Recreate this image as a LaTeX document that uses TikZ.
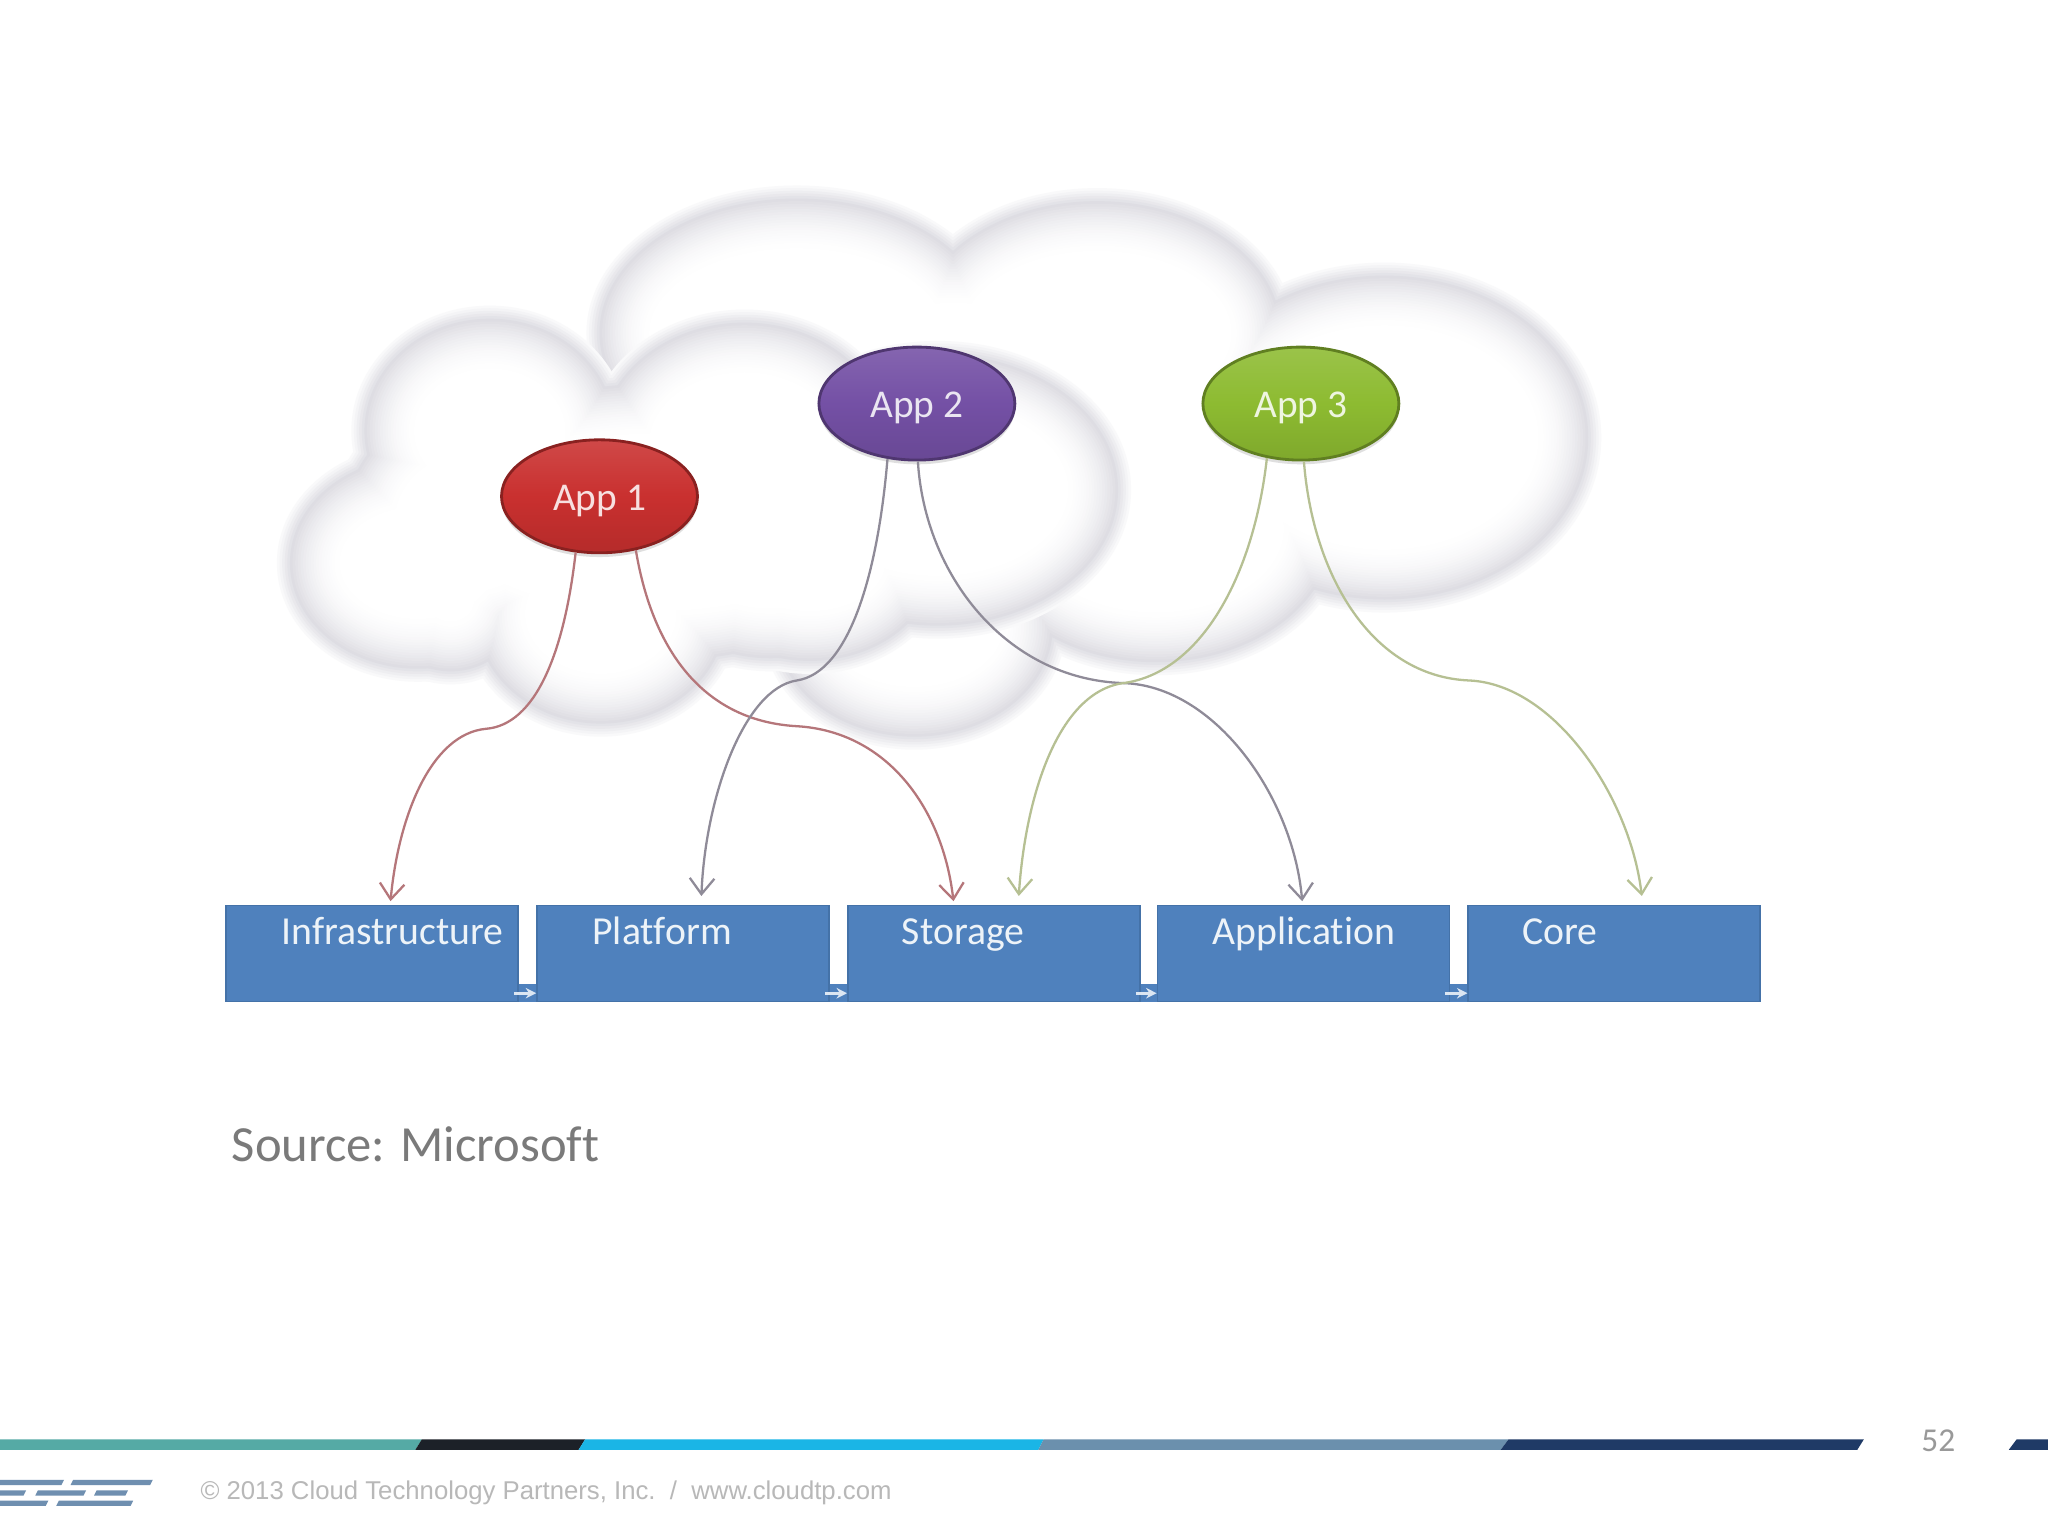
\documentclass[tikz,border=0pt]{standalone}
\usepackage{fontspec}
\setmainfont[Ligatures=NoCommon]{Carlito}
\newfontfamily\footfont{Liberation Sans}
\usetikzlibrary{shapes.geometric,arrows.meta,shadows}
\definecolor{tiercol}{HTML}{4F81BD}
\definecolor{tieredge}{HTML}{4472A8}
\definecolor{redlink}{HTML}{B5767A}
\definecolor{purplelink}{HTML}{8F8B98}
\definecolor{greenlink}{HTML}{B6C093}
\definecolor{appred}{HTML}{C9302F}
\definecolor{apppurple}{HTML}{7450A5}
\definecolor{appgreen}{HTML}{8DBB31}
\definecolor{barteal}{HTML}{55AAA5}
\definecolor{barblack}{HTML}{1C2128}
\definecolor{barblue}{HTML}{1AB5E6}
\definecolor{barsteel}{HTML}{6B90AD}
\definecolor{barnavy}{HTML}{1F3A66}
\definecolor{logocol}{HTML}{6F8FB0}
\definecolor{cloudgrey}{HTML}{DEDDE3}
\newcommand{\cloudlayers}[1]{%
\foreach \d in {-6,-4,...,44}{
\pgfmathsetmacro{\p}{\d<4 ? (\d+8)*100/12 : 100*(1-(\d-4)/42)*(1-(\d-4)/42)}
\foreach \x/\y/\a/\b in {#1}
\fill[cloudgrey!\p!white] (\x,\y) ellipse [x radius=\a-\d, y radius=\b-\d];
}}
\begin{document}
\begin{tikzpicture}
[x=0.013061cm,y=-0.013061cm,
%%%%%%%%%%%%%%%%%%%%%%%%%%%%%%
tierbox/.style={rectangle,draw=tieredge,fill=tiercol,line width=0.5pt,minimum width=2.92cm,minimum height=0.96cm,inner sep=0pt},
tierlabel/.style={anchor=base west,inner sep=0pt,text=white!90!tiercol,font=\fontsize{11.3}{12}\selectfont},
appnode/.style={ellipse,draw=#1!68!black,line width=0.8pt,top color=#1!88!white,bottom color=#1!90!black,middle color=#1,minimum width=1.96cm,minimum height=1.13cm,inner sep=0pt,text=white!85!#1,font=\fontsize{11.2}{12}\selectfont,text height=10.3pt,text depth=2.2pt,drop shadow={shadow xshift=0pt,shadow yshift=-1.2pt,opacity=0.25}},
link/.style={line width=0.65pt,-{Straight Barb[length=4.5pt,width=7pt]}},
tierband/.style={tiercol,line width=5.2pt},
tierlink/.style={white!80!tiercol,line width=0.8pt,-{Stealth[length=3pt,width=3pt]}},
]%%%%%%%%%%%%%%%%%%%%%%%%%%%%%%
\useasboundingbox (0,0) rectangle (1568,1176);
\fill[white] (0,0) rectangle (1568,1176);

% back cloud, then front cloud
\cloudlayers{610/255/155/107,840/255/145/105,1060/335/160/128,885/405/140/106,700/480/110/88,800/340/220/120,730/270/150/80}
\cloudlayers{375/330/100/90,570/340/115/97,718/375/142/108,320/431/102/85,345/460/60/58,460/470/100/88,500/400/200/110,620/430/100/80,590/445/90/63,360/400/100/95}

% tiers
\node[tierbox] (infra) at (285,730){};
\node[tierbox] (platform) at (523,730){};
\node[tierbox] (storage) at (761,730){};
\node[tierbox] (application) at (998,730){};
\node[tierbox] (core) at (1236,730){};
\node[tierlabel] (infralabel) at (215,723){Infrastructure};
\node[tierlabel] (platformlabel) at (453,723){Platform};
\node[tierlabel] (storagelabel) at (690,723){Storage};
\node[tierlabel] (applicationlabel) at (928,723){Application};
\node[tierlabel] (corelabel) at (1165,723){Core};
\foreach \a/\b in {infra/platform,platform/storage,storage/application,application/core}{
\draw[tierband] ([yshift=2.6pt]\a.south east) -- ([yshift=2.6pt]\b.south west);
\draw[tierlink] ([xshift=-1.4pt,yshift=2.6pt]\a.south east) -- ([yshift=2.6pt]\b.south west);
}

% apps
\node[appnode=appred] (app1) at (459,380){App 1};
\node[appnode=apppurple] (app2) at (702,309){App 2};
\node[appnode=appgreen] (app3) at (996,309){App 3};

% arrow ends on the tiers
\coordinate (infraend) at (299,690);
\coordinate (platformend) at (537,686);
\coordinate (storageend1) at (730,690);
\coordinate (storageend3) at (780,686);
\coordinate (applicationend) at (997,690);
\coordinate (coreend) at (1257,686);

\draw[link,redlink] (app1.-113) .. controls (432,500) and (410,555) .. (372,558) .. controls (330,562) and (305,625) .. (infraend);
\draw[link,redlink] (app1.-56) .. controls (500,500) and (540,552) .. (610,556) .. controls (680,560) and (722,620) .. (storageend1);
\draw[link,purplelink] (app2.-118) .. controls (672,440) and (650,515) .. (610,521) .. controls (570,527) and (540,610) .. (platformend);
\draw[link,purplelink] (app2.-89) .. controls (708,440) and (770,520) .. (860,523) .. controls (930,525) and (990,610) .. (applicationend);
\draw[link,greenlink] (app3.-122) .. controls (960,440) and (920,515) .. (860,523) .. controls (810,530) and (785,610) .. (storageend3);
\draw[link,greenlink] (app3.-87) .. controls (1005,440) and (1050,518) .. (1125,521) .. controls (1190,524) and (1248,610) .. (coreend);

\node[anchor=west,inner sep=0pt,text=black!52,font=\fontsize{14.4}{16}\selectfont] (source) at (177,876){Source: Microsoft};

% footer bar
\fill[barteal] (0,1102) -- (323,1102) -- (318,1110) -- (0,1110) -- cycle;
\fill[barblack] (323,1102) -- (448,1102) -- (443,1110) -- (318,1110) -- cycle;
\fill[barblue] (448,1102) -- (799,1102) -- (795,1110) -- (443,1110) -- cycle;
\fill[barsteel] (799,1102) -- (1155,1102) -- (1149,1110) -- (795,1110) -- cycle;
\fill[barnavy] (1155,1102) -- (1427,1102) -- (1422,1110) -- (1149,1110) -- cycle;
\fill[barnavy] (1544,1102) -- (1568,1102) -- (1568,1110) -- (1538,1110) -- cycle;
\node[inner sep=0pt,text=black!40,font=\fontsize{9.5}{11}\selectfont] (pagenum) at (1484,1103){52};

% logo
\foreach \l/\r/\t in {-5/49/1133,54/117/1133,-5/20/1141,27/66/1141,72/98/1141,-5/37/1149,43/102/1149}{
\fill[logocol] (\l+2,\t) -- (\r,\t) -- (\r-2,\t+4) -- (\l,\t+4) -- cycle;
}
\node[anchor=west,inner sep=0pt,text=black!28,font=\footfont\fontsize{7.32}{9}\selectfont] (copyright) at (153,1143){© 2013 Cloud Technology Partners, Inc.\ \ /\ \ www.cloudtp.com};
\end{tikzpicture}
\end{document}
